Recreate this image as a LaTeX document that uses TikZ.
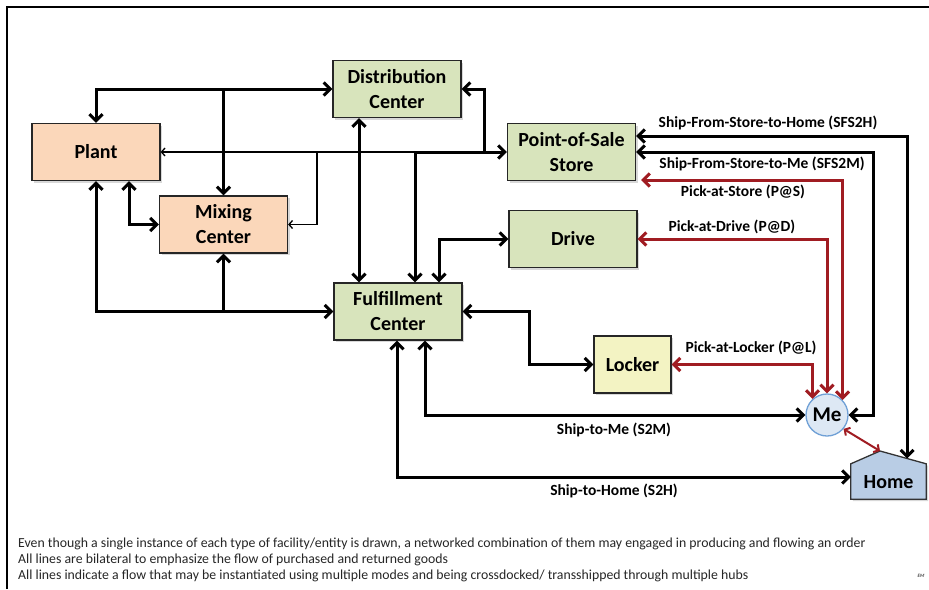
\documentclass[tikz,border=0pt]{standalone}
\usepackage{fontspec}
\setmainfont{Carlito}
\usetikzlibrary{arrows.meta,shadows,calc}
\definecolor{peach}{HTML}{FBD7BA}
\definecolor{sage}{HTML}{D8E4BC}
\definecolor{lockerfill}{HTML}{F3F3C3}
\definecolor{mefill}{HTML}{DDE8F4}
\definecolor{meline}{HTML}{6FA0D6}
\definecolor{homefill}{HTML}{B9CDE5}
\definecolor{flowred}{HTML}{A01C22}
\definecolor{notegray}{HTML}{262626}
\begin{document}
\begin{tikzpicture}[x=1pt,y=-1pt,
  box/.style={draw=black!85, line width=1.3pt, minimum width=128pt, minimum height=57pt,
    inner sep=0pt, align=center, font=\bfseries\fontsize{20}{25}\selectfont,
    drop shadow={opacity=0.3, shadow xshift=2pt, shadow yshift=-2pt}},
  fat/.style={line width=3pt, >={Straight Barb[length=6.5pt,width=13pt]}},
  slim/.style={line width=1.3pt, >={Straight Barb[length=3.5pt,width=8pt]}},
  redfat/.style={fat, draw=flowred},
  flowlabel/.style={font=\bfseries\fontsize{15.5}{18}\selectfont, inner sep=0pt},
  note/.style={anchor=base west, inner sep=0pt, text=notegray, font=\fontsize{13.8}{16}\selectfont}]
\useasboundingbox (0,0) rectangle (929,589);
\fill[white] (0,0) rectangle (929,589);
% frame
\draw[line width=2pt] (7,589) -- (7,7) -- (929,7);

% nodes
\node[box, fill=peach] (Plant) at (96,152) {Plant};
\node[box, fill=peach] (Mixing) at (223.5,224.5) {Mixing\\Center};
\node[box, fill=sage] (DC) at (397,89) {Distribution\\Center};
\node[box, fill=sage] (POS) at (571.5,152) {Point-of-Sale\\Store};
\node[box, fill=sage] (Drive) at (573,239) {Drive};
\node[box, fill=sage] (FC) at (398,311.5) {Fulfillment\\Center};
\node[box, fill=lockerfill, minimum width=77pt] (Locker) at (632.5,364.5) {Locker};
\node[circle, draw=meline, line width=1.3pt, fill=mefill, minimum size=42pt, inner sep=0pt] (Me) at (827,415) {};
\node[font=\bfseries\fontsize{21}{24}\selectfont] (MeText) at (Me.center) {Me};
\node[minimum width=75pt, minimum height=35pt, inner sep=0pt] (Home) at (888.5,481.5) {};
\coordinate (roof) at (880,451);
\draw[fill=homefill, draw=black!80, line width=1.3pt,
  drop shadow={opacity=0.3, shadow xshift=2pt, shadow yshift=-2pt}]
  (Home.south west) -- (Home.north west) -- (roof) -- (Home.north east) -- (Home.south east) -- cycle;
\node[font=\bfseries\fontsize{20}{24}\selectfont] (HomeText) at ([yshift=-1pt]Home.center) {Home};
\coordinate (roofR) at ($(roof)!0.587!(Home.north east)$);

% junctions
\coordinate (jA) at (415,152);
\coordinate (jB) at (317,152);
\coordinate (jC) at (484,152);

% thin line from store side to plant and mixing
\draw[slim,->] (jA) -- (Plant.east);
\draw[slim,->] (jB) |- (Mixing.east);

% top bus
\draw[fat,<->] (Plant.north) |- (DC.west);
\draw[fat,->] (Mixing.north |- DC.west) -- (Mixing.north);
% bottom bus
\draw[fat,<->] (Plant.south) |- (FC.west);
\draw[fat,->] (Mixing.south |- FC.west) -- (Mixing.south);
% plant - mixing
\draw[fat,<->] ([xshift=33pt]Plant.south) |- (Mixing.west);
% DC - FC
\draw[fat,<->] ([xshift=-38pt]DC.south) -- ([xshift=-38pt]DC.south |- FC.north);
% POS - FC
\draw[fat,<->] (POS.west) -- (jA) -- (jA |- FC.north);
% POS - DC
\draw[fat,->] (jC) |- (DC.east);
% FC - Drive
\draw[fat,<->] ([xshift=41pt]FC.north) |- (Drive.west);
% FC - Locker
\draw[fat,<->] (FC.east) -- ++(67,0) |- (Locker.west);
% FC - Me
\draw[fat,<->] ([xshift=27pt]FC.south) |- (Me.west);
% FC - Home
\draw[fat,<->] ([xshift=-1pt]FC.south) |- ([yshift=4.5pt]Home.west);
% Store - Home
\draw[fat,<->] ([yshift=16pt]POS.east) -| (roofR);
% Store - Me
\draw[fat,<->] (POS.east) -- ++(237,0) |- (Me.east);
% red pickup flows
\draw[redfat,<->] ([shift={(5pt,-28pt)}]POS.east) -| (Me.44);
\draw[redfat,<->] (Drive.east) -| (Me.north);
\draw[redfat,<->] (Locker.east) -| (Me.132);
% Me - Home
\draw[flowred, line width=2pt, >={Straight Barb[length=4pt,width=9pt]}, <->] (Me.-40) -- (roof);

% labels
\node[flowlabel] (lSFS2H) at (768,123) {Ship-From-Store-to-Home (SFS2H)};
\node[flowlabel] (lSFS2M) at (762,164) {Ship-From-Store-to-Me (SFS2M)};
\node[flowlabel] (lPS) at (743,192) {Pick-at-Store (P@S)};
\node[flowlabel] (lPD) at (732,227) {Pick-at-Drive (P@D)};
\node[flowlabel] (lPL) at (751,348) {Pick-at-Locker (P@L)};
\node[flowlabel] (lS2M) at (614,430) {Ship-to-Me (S2M)};
\node[flowlabel] (lS2H) at (614,491) {Ship-to-Home (S2H)};

% notes
\node[note] (n1) at (18,547) {Even though a single instance of each type of facility/entity is drawn, a networked combination of them may engaged in producing and flowing an order};
\node[note] (n2) at (18,563) {All lines are bilateral to emphasize the flow of purchased and returned goods};
\node[note] (n3) at (18,579) {All lines indicate a flow that may be instantiated using multiple modes and being crossdocked/ transshipped through multiple hubs};
\node[font=\bfseries\itshape\fontsize{5}{6}\selectfont, text=black!70, inner sep=0pt] (sig) at (921,576) {EM};
\end{tikzpicture}
\end{document}
